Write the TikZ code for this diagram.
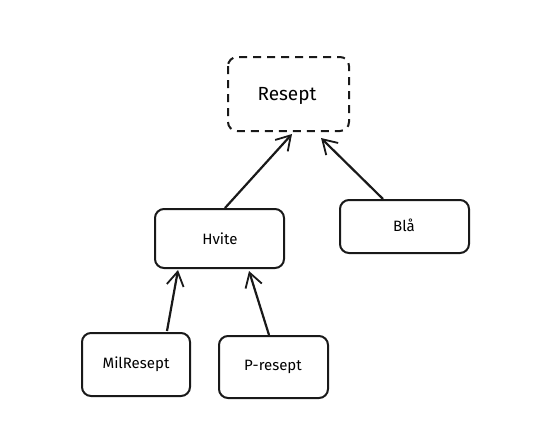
\documentclass[tikz,border=0pt]{standalone}
\usepackage{fontspec}
\setmainfont{Fira Sans}
\usetikzlibrary{arrows.meta}
\begin{document}
\begin{tikzpicture}[x=1pt,y=-1pt,
  box/.style={draw=black!90,line width=2pt,rounded corners=9pt,fill=white},
  dbox/.style={box,dashed,dash pattern=on 8pt off 6pt},
  lbl/.style={font=\fontsize{15}{17}\selectfont},
  conn/.style={draw=black!90,line width=2.2pt,-{Straight Barb[length=14pt,width=17pt,line width=1.8pt]}}]
\useasboundingbox (0,0) rectangle (557,434);
\draw[dbox] (228,57) rectangle (349,131);
\node[font=\fontsize{19}{22}\selectfont] (resept) at (287,96) {Resept};
\coordinate (reseptL) at (292,134);
\coordinate (reseptR) at (321,138);
\draw[box] (155,209) rectangle (284,268);
\node[lbl] (hvite) at (220,239) {Hvite};
\coordinate (hviteT) at (225,208);
\coordinate (hviteBL) at (178,270);
\coordinate (hviteBR) at (249,271);
\draw[box] (340,200) rectangle (469,253);
\node[lbl] (bla) at (404,225) {Blå};
\coordinate (blaT) at (383,199);
\draw[box] (82,333) rectangle (190,396);
\node[lbl] (mil) at (136,364) {MilResept};
\coordinate (milT) at (167,331);
\draw[box] (219,336) rectangle (328,398);
\node[lbl] (pre) at (273,367) {P-resept};
\coordinate (preT) at (269,335);
\draw[conn] (hviteT) -- (reseptL);
\draw[conn] (blaT) -- (reseptR);
\draw[conn] (milT) -- (hviteBL);
\draw[conn] (preT) -- (hviteBR);
\end{tikzpicture}
\end{document}
